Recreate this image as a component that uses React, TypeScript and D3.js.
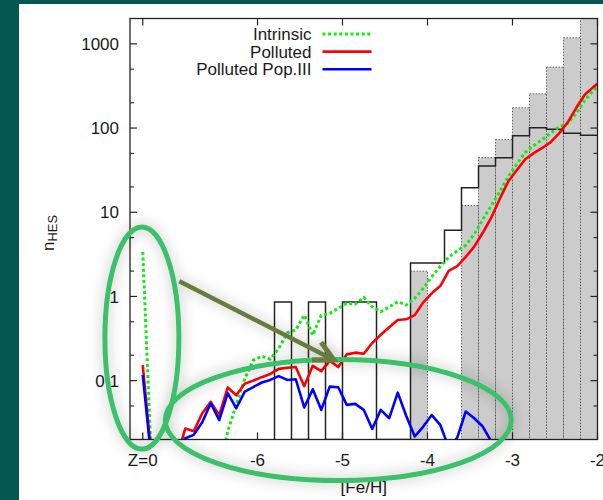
import React from "react";
import * as d3 from "d3";

// [Fe/H] grid of the model curves (first point is the Z=0 bin)
const fehGrid = [
  -7.35, -7.25, -7.15, -7.05, -6.95, -6.85, -6.75, -6.65, -6.55, -6.45,
  -6.35, -6.25, -6.15, -6.05, -5.95, -5.85, -5.75, -5.65, -5.55, -5.45,
  -5.35, -5.25, -5.15, -5.05, -4.95, -4.85, -4.75, -4.65, -4.55, -4.45,
  -4.35, -4.25, -4.15, -4.05, -3.95, -3.85, -3.75, -3.65, -3.55, -3.45,
  -3.35, -3.25, -3.15, -3.05, -2.95, -2.85, -2.75, -2.65, -2.55, -2.45,
  -2.35, -2.25, -2.15, -2.05, -1.95,
];

const intrinsic = [
  3.38, 0.012, 0.004, 0.004, 0.004, 0.004, 0.004, 0.004, 0.004, 0.008,
  0.025, 0.052, 0.105, 0.175, 0.195, 0.18, 0.24, 0.37, 0.4, 0.6,
  0.348, 0.6, 0.63, 0.72, 0.83, 0.81, 0.975, 0.753, 0.658, 0.753,
  0.865, 0.79, 0.95, 1.25, 1.71, 2.27, 2.93, 3.48, 4.06, 5.5,
  8.2, 11.9, 17.6, 26.5, 37.2, 51.4, 62, 73, 87, 104,
  113, 149, 213, 279, 347,
];

const polluted = [
  0.153, 0.013, 0.005, 0.005, 0.012, 0.027, 0.025, 0.041, 0.056, 0.039,
  0.083, 0.067, 0.092, 0.1, 0.11, 0.12, 0.138, 0.142, 0.145, 0.086,
  0.15, 0.13, 0.172, 0.145, 0.205, 0.215, 0.209, 0.28, 0.35, 0.43,
  0.525, 0.535, 0.6, 0.85, 1.09, 1.33, 2.01, 2.29, 2.95, 3.9,
  5.7, 8.6, 14.4, 23.2, 31.5, 42.6, 50.3, 58, 68, 87,
  117, 174, 248, 306, 367,
];

const pollutedPop3 = [
  0.117, 0.012, 0.005, 0.005, 0.008, 0.0207, 0.0227, 0.032, 0.054, 0.034,
  0.071, 0.047, 0.074, 0.084, 0.095, 0.102, 0.113, 0.102, 0.104, 0.048,
  0.079, 0.045, 0.085, 0.0835, 0.0515, 0.053, 0.045, 0.0267, 0.045, 0.0358,
  0.072, 0.038, 0.0217, 0.0285, 0.039, 0.0299, 0.016, 0.021, 0.043, 0.0358,
  0.0285, 0.019, 0.006, 0.004, 0.004, 0.004, 0.004, 0.004, 0.004, 0.004,
  0.004, 0.004, 0.004, 0.004, 0.004,
];

// grey filled histogram (bin left edges, width 0.2)
const greyEdges = [-4.2, -4.0, -3.8, -3.6, -3.4, -3.2, -3.0, -2.8, -2.6, -2.4, -2.2];
const greyCounts = [2.0, 0, 0, 12, 44.5, 73, 174, 255, 528, 1180, 2600];

// black step histogram
const hesEdges = [
  -5.8, -5.6, -5.4, -5.2, -5.0, -4.8, -4.6, -4.4, -4.2, -4.0,
  -3.8, -3.6, -3.4, -3.2, -3.0, -2.8, -2.6, -2.4, -2.2,
];
const hesCounts = [
  0.86, 0, 0.86, 0, 0.86, 0.86, 0, 0, 2.5, 2.5,
  6.1, 19.6, 35.4, 44.5, 81, 101, 97, 87, 82,
];
const binWidth = 0.2;

const xTicks = [-7.35, -6, -5, -4, -3, -2];
const xTickLabels = ["Z=0", "-6", "-5", "-4", "-3", "-2"];
const yTicks = [0.1, 1, 10, 100, 1000];
const yTickLabels = ["0.1", "1", "10", "100", "1000"];
const yMinor = [0.05, 0.2, 0.5, 2, 5, 20, 50, 200, 500];

const seriesNames = ["Intrinsic", "Polluted", "Polluted Pop.III"];

const font = "'Liberation Sans', Arial, sans-serif";
const fs = 17;

export default function App() {
  const W = 603, H = 500;
  const x = d3.scaleLinear().domain([-7.5, -2]).range([130, 597.5]);
  const y = d3.scaleLog().domain([0.02, 2000]).range([439.5, 18.5]);
  const [x0, x1] = x.range();
  const [yb, yt] = y.range();

  const yv = (v: number) => (v > 0 ? y(v) : yb);

  const line = d3
    .line<number>()
    .x((_, i) => x(fehGrid[i]))
    .y((d) => y(d));

  const stepPts = [{ f: hesEdges[0], v: 0 }]
    .concat(hesEdges.map((f, i) => ({ f, v: hesCounts[i] })))
    .concat([{ f: hesEdges[hesEdges.length - 1] + binWidth, v: hesCounts[hesCounts.length - 1] }]);
  const stepLine = d3
    .line<{ f: number; v: number }>()
    .x((d) => x(d.f))
    .y((d) => yv(d.v))
    .curve(d3.curveStepAfter);

  const styles = [
    { data: intrinsic, color: "#18e818", dash: "3,2.6", width: 3 },
    { data: polluted, color: "#ff0000", dash: null, width: 2.6 },
    { data: pollutedPop3, color: "#0000ff", dash: null, width: 2.6 },
  ];

  // annotation anchors, in data units
  const tipX = x(-5.1), tipY = y(0.176);
  const tailX = x(-6.92), tailY = y(1.52);
  const ang = Math.atan2(tipY - tailY, tipX - tailX);
  const barb = (d: number) => [
    tipX + 22 * Math.cos(ang + Math.PI + d),
    tipY + 22 * Math.sin(ang + Math.PI + d),
  ];
  const b1 = barb((27 * Math.PI) / 180);
  const b2 = barb((-27 * Math.PI) / 180);

  return (
    <svg
      width={W}
      height={H}
      style={{ position: "absolute", left: 0, top: 0 }}
      fontFamily={font}
    >
      <defs>
        <clipPath id="plotClip">
          <rect x={x0} y={yt} width={x1 - x0} height={yb - yt} />
        </clipPath>
        <filter id="shadow" x="-30%" y="-30%" width="160%" height="160%">
          <feDropShadow dx="0" dy="0" stdDeviation="7" floodColor="#000" floodOpacity="0.3" />
        </filter>
      </defs>

      <rect width={W} height={H} fill="#065651" />
      <rect x={19} y={4} width={W - 19} height={H - 4} fill="#ffffff" />

      <g clipPath="url(#plotClip)">
        {greyEdges.map((f, i) =>
          greyCounts[i] > 0 ? (
            <rect
              key={"g" + i}
              x={x(f)}
              y={y(greyCounts[i])}
              width={x(f + binWidth) - x(f)}
              height={yb - y(greyCounts[i])}
              fill="#cccccc"
              stroke="#555"
              strokeWidth={0.9}
              strokeDasharray="1.5,1.5"
            />
          ) : null
        )}
        <path d={stepLine(stepPts) || ""} fill="none" stroke="#222" strokeWidth={1.5} />
        {styles.map((s, i) => (
          <path
            key={"l" + i}
            d={line(s.data) || ""}
            fill="none"
            stroke={s.color}
            strokeWidth={s.width}
            strokeDasharray={s.dash || undefined}
            strokeLinejoin="round"
          />
        ))}
      </g>

      {/* frame and ticks */}
      <rect x={x0} y={yt} width={x1 - x0} height={yb - yt} fill="none" stroke="#222" strokeWidth={1.3} />
      {yTicks.map((t, i) => (
        <g key={"yt" + i}>
          <line x1={x0} x2={x0 + 7} y1={y(t)} y2={y(t)} stroke="#222" strokeWidth={1.2} />
          <line x1={x1} x2={x1 - 7} y1={y(t)} y2={y(t)} stroke="#222" strokeWidth={1.2} />
          <text x={x0 - 11} y={y(t)} dy="0.36em" textAnchor="end" fontSize={fs} fill="#1a1a1a">
            {yTickLabels[i]}
          </text>
        </g>
      ))}
      {yMinor.map((t, i) => (
        <g key={"ym" + i}>
          <line x1={x0} x2={x0 + 4} y1={y(t)} y2={y(t)} stroke="#222" strokeWidth={1.1} />
          <line x1={x1} x2={x1 - 4} y1={y(t)} y2={y(t)} stroke="#222" strokeWidth={1.1} />
        </g>
      ))}
      {xTicks.map((t, i) => (
        <g key={"xt" + i}>
          <line x1={x(t)} x2={x(t)} y1={yb} y2={yb - 7} stroke="#222" strokeWidth={1.2} />
          <line x1={x(t)} x2={x(t)} y1={yt} y2={yt + 7} stroke="#222" strokeWidth={1.2} />
          <text x={x(t)} y={yb + 20} dy="0.36em" textAnchor="middle" fontSize={fs} fill="#1a1a1a">
            {xTickLabels[i]}
          </text>
        </g>
      ))}

      <text x={(x0 + x1) / 2} y={yb + 47} dy="0.36em" textAnchor="middle" fontSize={fs} fill="#1a1a1a">
        [Fe/H]
      </text>
      <text transform={`translate(54, 251) rotate(-90)`} fontSize={fs} fill="#1a1a1a">
        n
        <tspan dy={3} fontSize={13}>HES</tspan>
      </text>

      {/* key */}
      {seriesNames.map((name, i) => {
        const ly = 34 + i * 17.6;
        const s = styles[i];
        return (
          <g key={"k" + i}>
            <text x={311.5} y={ly} dy="0.36em" textAnchor="end" fontSize={fs} fill="#1a1a1a">
              {name}
            </text>
            <line
              x1={322.5}
              x2={371.5}
              y1={ly}
              y2={ly}
              stroke={s.color}
              strokeWidth={s.width}
              strokeDasharray={s.dash || undefined}
            />
          </g>
        );
      })}

      {/* annotations */}
      <g filter="url(#shadow)" fill="none">
        <ellipse cx={x(-7.36)} cy={y(0.32)} rx={37} ry={111} stroke="#3cc06b" strokeWidth={5} />
        <ellipse cx={x(-5.05)} cy={y(0.034)} rx={173} ry={60.5} stroke="#3cc06b" strokeWidth={5} />
        <line x1={tailX} y1={tailY} x2={tipX} y2={tipY} stroke="#677c3c" strokeWidth={4.5} />
        <path
          d={`M${b1[0]},${b1[1]}L${tipX},${tipY}L${b2[0]},${b2[1]}`}
          stroke="#677c3c"
          strokeWidth={5}
          strokeLinejoin="miter"
        />
      </g>
    </svg>
  );
}
